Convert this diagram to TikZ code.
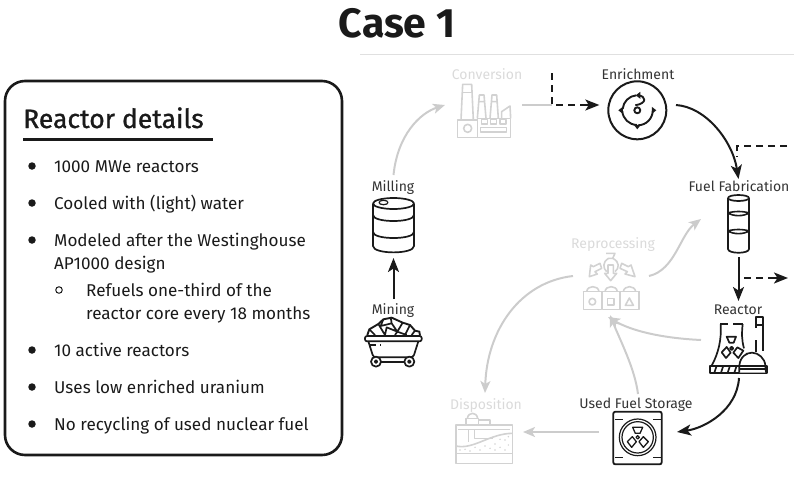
\documentclass[tikz,border=0pt]{standalone}
\usepackage{fontspec}
\setmainfont{Fira Sans}
\newfontfamily\headfont[FakeBold=1.0]{Fira Sans}
\usetikzlibrary{arrows.meta}
\definecolor{ink}{HTML}{1A1A1A}
\definecolor{lbl}{HTML}{333333}
\definecolor{fade}{HTML}{D2D2D2}
\definecolor{fadetxt}{HTML}{DADADA}
\definecolor{arrowfade}{HTML}{CCCCCC}
\tikzset{
  x=1pt,y=1pt,
  iconbox/.style={inner sep=0pt,outer sep=0pt},
  lab/.style={font=\fontsize{14}{14}\selectfont,text=lbl,inner sep=0pt,anchor=base},
  fadelab/.style={font=\fontsize{14}{14}\selectfont,text=fadetxt,inner sep=0pt,anchor=base},
  item/.style={font=\fontsize{17.1}{17.1}\selectfont,text=ink,anchor=base west,inner sep=0pt},
  dot/.style={circle,fill=ink,draw=none,minimum size=7.5pt,inner sep=0pt},
  hdot/.style={circle,draw=ink,line width=1pt,minimum size=6.5pt,inner sep=0pt},
  tip/.style={-{Stealth[length=14pt,width=11pt,inset=3.5pt]}},
  gtip/.style={-{Stealth[length=12pt,width=10pt,inset=3pt]}},
  con/.style={tip,line width=2pt,draw=ink},
  gcon/.style={gtip,line width=2pt,draw=arrowfade},
  dcon/.style={line width=2pt,draw=ink,dash pattern=on 7pt off 5pt},
  ic/.style={line width=1.7pt,draw=ink,line join=round},
  gic/.style={line width=1.6pt,draw=fade,line join=round},
}
\begin{document}
\begin{tikzpicture}
\useasboundingbox (0,0) rectangle (794,-479);
% title and rule
\node[font=\bfseries\fontsize{41}{41}\selectfont,text=ink,inner sep=0pt] (title) at (397,-23) {Case 1};
\coordinate (ruleL) at (360,-54); \coordinate (ruleR) at (794,-54);
\draw[line width=.7pt,draw=black!12] (ruleL) -- (ruleR);
% details panel
\node[draw=ink,line width=2.6pt,rounded corners=20pt,minimum width=337pt,minimum height=374pt,inner sep=0pt] (panel) at (173.5,-268) {};
\node[font=\headfont\fontsize{26.5}{26.5}\selectfont,text=ink,anchor=base west,inner sep=0pt] (head) at (23,-128) {Reactor details};
\coordinate (ulL) at (23,-139); \coordinate (ulR) at (213,-139);
\draw[line width=3pt,draw=ink] (ulL) -- (ulR);
\foreach \n/\y in {a/166,b/203,c/240,d/350,e/387,f/424}{\node[dot] (dot\n) at (32,-\y) {};}
\node[hdot] (hd) at (59,-290) {};
\node[item] (t1) at (54,-172) {1000 MWe reactors};
\node[item] (t2) at (54,-209) {Cooled with (light) water};
\node[item] (t3) at (54,-246) {Modeled after the Westinghouse};
\node[item] (t3b) at (54,-269) {AP1000 design};
\node[item] (t4) at (86,-296) {Refuels one-third of the};
\node[item] (t4b) at (86,-319) {reactor core every 18 months};
\node[item] (t5) at (54,-356) {10 active reactors};
\node[item] (t6) at (54,-393) {Uses low enriched uranium};
\node[item] (t7) at (54,-430) {No recycling of used nuclear fuel};
% labels
\node[fadelab] (lconv) at (487,-79) {Conversion};
\node[lab] (lenr) at (638,-79) {Enrichment};
\node[lab] (lfuel) at (739,-191) {Fuel Fabrication};
\node[lab] (lmill) at (393,-191) {Milling};
\node[lab] (lmine) at (393,-314.5) {Mining};
\node[lab] (lreac) at (738,-314) {Reactor};
\node[fadelab] (lrep) at (613,-248) {Reprocessing};
\node[lab] (lstor) at (636,-408) {Used Fuel Storage};
\node[fadelab] (ldisp) at (486,-409) {Disposition};
% icon boxes
\node[iconbox,minimum width=53pt,minimum height=53pt] (conv) at (484.5,-110.5) {};
\node[iconbox,circle,draw=ink,line width=2pt,minimum size=58pt] (enr) at (637.3,-110.3) {};
\node[iconbox,minimum width=21pt,minimum height=58pt] (fuel) at (738.5,-224) {};
\node[iconbox,minimum width=57pt,minimum height=56pt] (reac) at (738.5,-345) {};
\node[iconbox,minimum width=55pt,minimum height=56pt] (rep) at (610.5,-281) {};
\node[iconbox,minimum width=49pt,minimum height=53pt] (stor) at (637.5,-438.5) {};
\node[iconbox,minimum width=57pt,minimum height=50pt] (disp) at (484.5,-438) {};
\node[iconbox,minimum width=41pt,minimum height=54pt] (mill) at (393.5,-225) {};
\node[iconbox,minimum width=57pt,minimum height=50pt] (cart) at (393.5,-342) {};
% connectors
\draw[gcon] ([yshift=23pt]mill.north) .. controls +(4,40) and +(-25,-8) .. ([xshift=-13pt,yshift=5.5pt]conv.west);
\draw[con] ([yshift=18pt]cart.north) -- ([yshift=-6pt]mill.south);
\coordinate (cj) at (552,-105); \coordinate (ct) at (552,-73);
\draw[line width=1.6pt,draw=arrowfade] ([xshift=11pt,yshift=5.5pt]conv.east) -- (cj);
\draw[dcon] (ct) -- (cj) -- ([xshift=-20pt,yshift=5.3pt]enr.west);
\draw[tip,line width=2pt,draw=ink] ([xshift=-22pt,yshift=5.3pt]enr.west) -- ([xshift=-9pt,yshift=5.3pt]enr.west);
\draw[con] ([xshift=9.7pt,yshift=5.3pt]enr.east) .. controls +(30,-2) and +(-6,38) .. ([yshift=16pt]fuel.north);
\coordinate (fe) at (787,-146); \coordinate (fj) at (737,-146); \coordinate (fd) at (737,-157);
\draw[dcon] (fe) -- (fj) -- (fd);
\draw[con] ([yshift=-4pt]fuel.south) -- ([yshift=16pt]reac.north);
\coordinate (rs) at (744,-278); \coordinate (rm) at (772,-278); \coordinate (re) at (788,-278);
\draw[dcon] (rs) -- (rm);
\draw[tip,line width=2pt,draw=ink] (rm) -- (re);
\draw[gcon] ([xshift=-9pt,yshift=5pt]reac.west) .. controls +(-42,2) and +(22,-13) .. ([xshift=-2.5pt,yshift=-8pt]rep.south);
\draw[gcon] ([xshift=.5pt,yshift=18pt]stor.north) .. controls +(-3,25) and +(10,-25) .. ([xshift=-.5pt,yshift=-6pt]rep.south);
\draw[gcon] ([xshift=11pt,yshift=5pt]rep.east) .. controls +(26,6) and +(-21,-16) .. ([xshift=-27pt,yshift=5pt]fuel.west);
\draw[gcon] ([xshift=-10pt,yshift=5pt]rep.west) .. controls +(-53,-6) and +(2,63) .. ([xshift=.5pt,yshift=20pt]disp.north);
\draw[gcon] ([xshift=-14pt,yshift=6.5pt]stor.west) -- ([xshift=10pt,yshift=6pt]disp.east);
\draw[con] ([xshift=.5pt,yshift=-5pt]reac.south) .. controls +(-2,-32) and +(28,4) .. ([xshift=15pt,yshift=6.5pt]stor.east);
% factory icon
\begin{scope}[shift={(360,-50)},x=1/3*1pt,y=-1/3*1pt]
\draw[gic] (293,210) rectangle (352,262) (352,205) rectangle (452,262);
\draw[gic] (303,210) -- (308,103) -- (335,103) -- (340,210);
\draw[gic] (306,128) -- (337,128);
\draw[gic] (352,205) -- (358,135) -- (372,135) -- (378,205) (356,155) -- (375,155);
\draw[gic] (390,205) -- (396,135) -- (410,135) -- (415,205) (393,155) -- (413,155);
\draw[gic] (425,205) -- (425,185) -- (450,168) -- (452,205);
\draw[gic] (323,235) circle[radius=12];
\draw[gic] (364,208) rectangle (382,222) (392,208) rectangle (410,222) (420,208) rectangle (438,222);
\draw[gic] (362,233) rectangle (440,246);
\end{scope}
% enrichment symbol
\begin{scope}[shift={(637.3,-110.3)}]
\draw[ic,line width=1.9pt] (0,0) circle[radius=3];
\draw[ic,line width=1.9pt] (-1,15) arc[start angle=95,end angle=175,radius=15];
\draw[ic,line width=1.9pt] (-15,-1) arc[start angle=185,end angle=268,radius=15];
\draw[ic,line width=1.9pt] (1,-15) arc[start angle=272,end angle=358,radius=15];
\draw[ic,line width=1.9pt] (1,15) .. controls (9,14) and (10,7) .. (-2,5);
\fill[ink] (-19,0) -- (-14.5,3.5) -- (-14.5,-3.5) -- cycle;
\fill[ink] (0,-19) -- (-3.5,-14.5) -- (3.5,-14.5) -- cycle;
\fill[ink] (19,0) -- (14.5,3.5) -- (14.5,-3.5) -- cycle;
\fill[ink] (-1.5,15) -- (3,18.5) -- (3,11.5) -- cycle;
\end{scope}
% barrel icon
\begin{scope}[shift={(393.5,-225)}]
\draw[ic] (0,21.5) ellipse[x radius=20.5,y radius=5.5];
\draw[ic] (-20.5,21.5) -- (-20.5,-21) .. controls (-20.5,-29.5) and (20.5,-29.5) .. (20.5,-21) -- (20.5,21.5);
\draw[ic] (-20.5,10) .. controls (-20.5,2) and (20.5,2) .. (20.5,10);
\draw[ic] (-20.5,-7) .. controls (-20.5,-15) and (20.5,-15) .. (20.5,-7);
\draw[ic,line width=1.2pt] (-10,22.5) ellipse[x radius=4.5,y radius=2.2];
\end{scope}
% fuel icon
\begin{scope}[shift={(738.5,-224)}]
\draw[ic] (0,26) ellipse[x radius=10.5,y radius=3];
\draw[ic] (-10.5,26) -- (-10.5,-25) .. controls (-10.5,-30) and (10.5,-30) .. (10.5,-25) -- (10.5,26);
\draw[ic,line width=1.6pt] (-10.5,11) .. controls (-5,7.5) and (5,7.5) .. (10.5,11) (-10.5,11) .. controls (-5,13) and (5,13) .. (10.5,11);
\draw[ic,line width=1.6pt] (-10.5,-7) .. controls (-5,-10.5) and (5,-10.5) .. (10.5,-7) (-10.5,-7) .. controls (-5,-5) and (5,-5) .. (10.5,-7);
\end{scope}
% mine cart icon
\begin{scope}[shift={(360,-220)},x=1/3*1pt,y=-1/3*1pt]
\draw[ic,rounded corners=2pt] (15,348) rectangle (185,364);
\draw[ic] (25,364) -- (38,405) .. controls (40,412) and (45,412) .. (52,412) -- (148,412) .. controls (156,412) and (160,410) .. (162,405) -- (175,364);
\draw[ic,fill=white] (48,425) circle[radius=15] (148,425) circle[radius=15];
\draw[ic] (48,425) circle[radius=4] (148,425) circle[radius=4];
\draw[ic] (63,425) -- (133,425);
\draw[ic] (30,376) -- (48,376) (60,376) -- (64,376);
\draw[ic,line width=1.9pt] (22,345) -- (28,328) -- (55,312) -- (70,298) -- (95,293) -- (128,308) -- (150,315) -- (165,332) -- (178,335) -- (180,347);
\draw[ic] (55,312) -- (75,345) (70,298) -- (62,318) -- (95,310) -- (92,292) (95,310) -- (112,335) -- (80,322) -- (75,345) (128,308) -- (112,335) -- (140,345) (150,315) -- (135,345) (165,332) -- (155,345) (28,328) -- (45,345) (112,335) -- (105,345);
\end{scope}
% reactor icon
\begin{scope}[shift={(570,-200)},x=1/3*1pt,y=-1/3*1pt]
\draw[ic] (450,372) -- (475,372) (490,372) -- (520,372);
\draw[ic] (452,372) .. controls (455,420) and (445,460) .. (425,497);
\draw[ic] (518,372) .. controls (515,400) and (515,420) .. (522,445) (528,460) -- (530,462);
\draw[ic] (420,497) rectangle (590,518);
\draw[ic,fill=white] (508,518) -- (508,497) .. controls (510,470) and (530,458) .. (546,458) .. controls (565,458) and (585,475) .. (586,497) -- (588,518);
\draw[ic] (510,497) -- (586,497) (510,507) -- (588,507);
\draw[ic] (440,497) -- (433,518) (460,497) -- (453,518) (480,497) -- (473,518) (500,497) -- (493,518);
\draw[ic] (557,352) rectangle (578,375);
\draw[ic] (558,375) -- (558,385) (578,375) -- (578,452) (557,420) -- (557,455);
\draw[ic] (470,410) -- (498,410) -- (491,428) -- (478,428) -- cycle;
\draw[ic] (455,457) -- (470,441) -- (482,458) -- (468,474) -- cycle;
\draw[ic] (520,452) -- (505,474) -- (490,458) -- (502,442) -- cycle;
\draw[ic] (485,445) circle[radius=5];
\end{scope}
% reprocessing icon
\begin{scope}[shift={(570,-200)},x=1/3*1pt,y=-1/3*1pt]
\draw[gic] (40,275) rectangle (95,328) (97,275) rectangle (150,328) (152,275) rectangle (207,328);
\draw[gic] (38,275) -- (209,275);
\draw[gic] (50,275) .. controls (52,255) and (85,255) .. (87,275);
\draw[gic] (105,275) .. controls (107,255) and (140,255) .. (142,275);
\draw[gic] (160,275) .. controls (162,255) and (195,255) .. (197,275);
\draw[gic] (67,305) circle[radius=10];
\draw[gic] (112,295) rectangle (132,315);
\draw[gic] (178,294) -- (190,316) -- (166,316) -- cycle;
\draw[gic] (108,160) -- (135,160) -- (128,175) .. controls (150,185) and (148,205) .. (135,215);
\draw[gic] (128,175) -- (115,175) .. controls (98,185) and (98,205) .. (110,215);
\draw[gic] (114,195) -- (130,195) -- (130,220) -- (140,220) -- (122,242) -- (104,220) -- (114,220) -- cycle;
\draw[gic] (90,190) -- (70,200) -- (62,195) -- (58,230) -- (82,222) -- (75,215) -- (95,205) -- cycle;
\draw[gic] (155,190) -- (175,200) -- (183,195) -- (195,230) -- (165,222) -- (172,215) -- (150,205) -- cycle;
\end{scope}
% used fuel storage icon
\begin{scope}[shift={(440,-370)},x=1/3*1pt,y=-1/3*1pt]
\draw[ic,rounded corners=2pt,line width=1.8pt] (520,125) rectangle (665,283);
\draw[ic,line width=1.2pt] (525,148) -- (548,148) (640,148) -- (662,148) (525,262) -- (548,262) (640,262) -- (662,262);
\draw[ic,line width=1.2pt] (593,202) circle[radius=55] (593,202) circle[radius=47];
\draw[ic,line width=1.3pt] (578,172) -- (608,172) -- (600,190) -- (586,190) -- cycle;
\draw[ic,line width=1.3pt] (562,215) -- (577,200) -- (589,215) -- (575,232) -- cycle;
\draw[ic,line width=1.3pt] (625,215) -- (610,232) -- (597,215) -- (610,200) -- cycle;
\draw[ic,line width=1.2pt] (593,202) circle[radius=5];
\end{scope}
% disposition icon
\begin{scope}[shift={(440,-370)},x=1/3*1pt,y=-1/3*1pt]
\draw[gic] (48,165) rectangle (218,280);
\draw[gic] (48,250) -- (218,250);
\draw[gic] (78,165) -- (78,145) -- (115,145) -- (115,165);
\draw[gic] (82,145) .. controls (85,125) and (110,125) .. (113,145);
\draw[gic] (115,150) -- (150,150) -- (150,165);
\draw[gic] (55,178) -- (210,178);
\draw[gic] (85,178) -- (85,215) (103,178) -- (103,205) -- (160,205);
\draw[gic] (48,228) .. controls (100,240) and (150,190) .. (218,190);
\foreach \px/\py in {60/240,75/238,90/243,105/232,120/240,135/228,150/235,165/222,180/232,195/210,205/225,180/208,165/240,195/240,205/200}{
  \fill[fade] (\px,\py) circle[radius=2.5];
}
\end{scope}
\end{tikzpicture}
\end{document}
